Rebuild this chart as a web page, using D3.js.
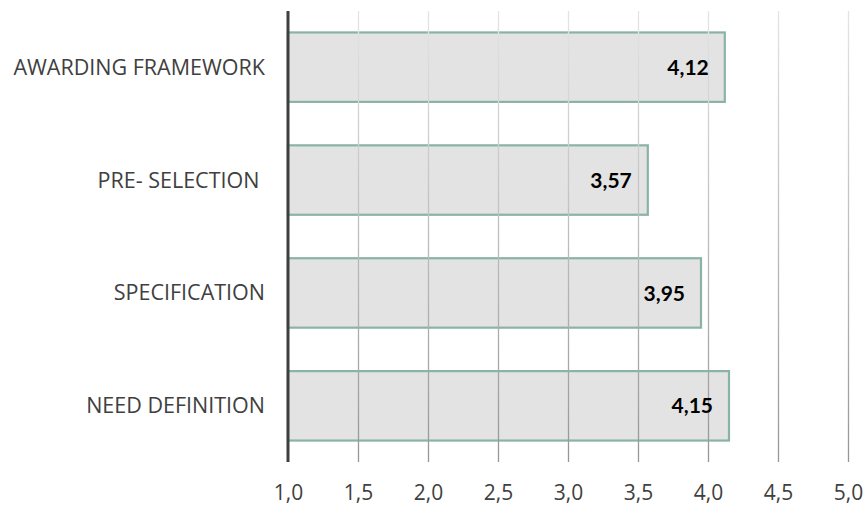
<!DOCTYPE html>
<html>
<head>
<meta charset="utf-8">
<script src="https://cdn.jsdelivr.net/npm/d3@7"></script>
<style>
  html, body { margin: 0; padding: 0; background: #fff; }
  svg { display: block; }
</style>
</head>
<body>
<svg id="chart" width="866" height="507"></svg>
<script>
// Procurement stage scores (1–5 scale)
const categories = ["AWARDING FRAMEWORK", "PRE- SELECTION ", "SPECIFICATION", "NEED DEFINITION"];
const scores = [4.12, 3.57, 3.95, 4.15];
const tickValues = [1.0, 1.5, 2.0, 2.5, 3.0, 3.5, 4.0, 4.5, 5.0];

const fmt = v => d3.format(".2f")(v).replace(".", ",");
const tickFmt = v => d3.format(".1f")(v).replace(".", ",");

const svg = d3.select("#chart");
const plotTop = 11, plotBottom = 462;

const x = d3.scaleLinear().domain([1, 5]).range([288, 848]);
const y = d3.scaleBand()
  .domain(categories)
  .range([plotTop, plotBottom])
  .paddingInner(0.385)
  .paddingOuter(0.19);

// Vertical fade for the grid lines (coordinates local to the axis group)
const gridLen = plotBottom - plotTop;
const defs = svg.append("defs");
const grad = defs.append("linearGradient")
  .attr("id", "gridFade")
  .attr("gradientUnits", "userSpaceOnUse")
  .attr("x1", 0).attr("y1", -gridLen).attr("x2", 0).attr("y2", 0);
grad.append("stop").attr("offset", "0%").attr("stop-color", "#e4e4e4");
grad.append("stop").attr("offset", "100%").attr("stop-color", "#969696");

// Bars
svg.append("g").selectAll("rect")
  .data(categories)
  .join("rect")
  .attr("x", x(1))
  .attr("y", d => y(d))
  .attr("width", (d, i) => x(scores[i]) - x(1))
  .attr("height", y.bandwidth())
  .attr("fill", "#e3e3e3")
  .attr("stroke", "#89b4a4")
  .attr("stroke-width", 2.2);

// Grid lines drawn over the bars
const xAxis = d3.axisBottom(x)
  .tickValues(tickValues)
  .tickSize(-gridLen)
  .tickFormat(tickFmt);

const gx = svg.append("g")
  .attr("transform", `translate(0,${plotBottom})`)
  .call(xAxis);
gx.select(".domain").remove();
gx.selectAll(".tick line")
  .attr("stroke", "url(#gridFade)")
  .attr("stroke-width", 1.3)
  .filter(d => d === 1).remove();
gx.selectAll(".tick text")
  .attr("y", 31)
  .attr("dy", "0.35em")
  .attr("fill", "#404040")
  .attr("font-family", "'Open Sans', sans-serif")
  .attr("font-size", 21);

// Category axis line
svg.append("line")
  .attr("x1", x(1)).attr("x2", x(1))
  .attr("y1", plotTop).attr("y2", plotBottom)
  .attr("stroke", "#3f3f3f")
  .attr("stroke-width", 3);

// Category labels
svg.append("g").selectAll("text")
  .data(categories)
  .join("text")
  .attr("x", 265)
  .attr("y", d => y(d) + y.bandwidth() / 2)
  .attr("dy", "0.35em")
  .attr("text-anchor", "end")
  .attr("fill", "#404040")
  .attr("font-family", "'Open Sans', sans-serif")
  .attr("font-size", 21.5)
  .style("white-space", "pre")
  .text(d => d);

// Value labels inside the bar ends
svg.append("g").selectAll("text")
  .data(categories)
  .join("text")
  .attr("x", (d, i) => x(scores[i]) - 16)
  .attr("y", d => y(d) + y.bandwidth() / 2)
  .attr("dy", "0.36em")
  .attr("text-anchor", "end")
  .attr("fill", "#000")
  .attr("font-family", "Lato, 'Open Sans', sans-serif")
  .attr("font-weight", "bold")
  .attr("font-size", 21)
  .text((d, i) => fmt(scores[i]));
</script>
</body>
</html>
